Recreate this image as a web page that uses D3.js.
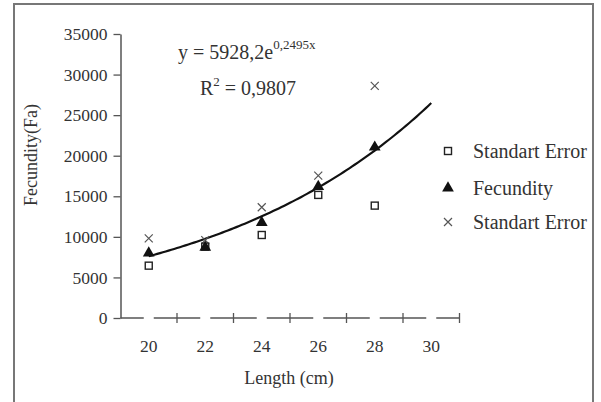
<!DOCTYPE html>
<html><head><meta charset="utf-8">
<script src="https://cdn.jsdelivr.net/npm/d3@7"></script>
<style>
html,body{margin:0;padding:0;background:#fff;}
svg{display:block;font-family:"Liberation Serif","Times New Roman",serif;}
</style></head>
<body>
<svg id="chart" width="601" height="402"></svg>
<script>
const lengths = [20, 22, 24, 26, 28];
const fecundity = [8000, 8700, 11750, 16200, 21050];
const seLow = [6450, 8800, 10230, 15170, 13850];
const seHigh = [9820, 9600, 13650, 17550, 28600];
const yTicks = [0, 5000, 10000, 15000, 20000, 25000, 30000, 35000];
const xLabels = [20, 22, 24, 26, 28, 30];
const xMarks = [21, 23, 25, 27, 29, 31];
const trendA = 5928.2, trendB = 0.2495;
const legendNames = ["Standart Error", "Fecundity", "Standart Error"];

const svg = d3.select("#chart");
const x = d3.scaleLinear().domain([19, 31]).range([120.5, 459.5]);
const y = d3.scaleLinear().domain([0, 35000]).range([318, 34]);
const axisCol = "#555";

// border
svg.append("rect").attr("x", 14).attr("y", 4).attr("width", 579).attr("height", 410)
  .attr("fill", "none").attr("stroke", "#777").attr("stroke-width", 2);

// y axis
const ya = svg.append("g").attr("transform", "translate(120.5,0)")
  .call(d3.axisLeft(y).tickValues(yTicks).tickSize(7).tickSizeOuter(0).tickPadding(6).tickFormat(d3.format("d")));
ya.select(".domain").attr("stroke", axisCol).attr("stroke-width", 1.5);
ya.selectAll(".tick line").attr("stroke", axisCol).attr("stroke-width", 1.3);
ya.selectAll("text").attr("font-family", "Liberation Serif").attr("font-size", 17.5).attr("fill", "#333");

// x axis (broken line with gaps at labels)
const xa = svg.append("g").attr("transform", "translate(0,318)");
const bounds = [19, ...xLabels, 31];
for (let i = 0; i < bounds.length - 1; i++) {
  const a = bounds[i], b = bounds[i + 1];
  const x0 = x(a) + (a === 19 ? 0 : 5), x1 = x(b) - (b === 31 ? 0 : 5);
  xa.append("line").attr("x1", x0).attr("x2", x1).attr("y1", 0).attr("y2", 0)
    .attr("stroke", axisCol).attr("stroke-width", 1.5);
}
xa.selectAll(".mk").data(xMarks).join("line").attr("class", "mk")
  .attr("x1", d => x(d)).attr("x2", d => x(d)).attr("y1", -5).attr("y2", 5)
  .attr("stroke", axisCol).attr("stroke-width", 1.3);
xa.selectAll(".lb").data(xLabels).join("text").attr("class", "lb")
  .attr("x", d => x(d)).attr("y", 34).attr("text-anchor", "middle")
  .attr("font-size", 17.5).attr("fill", "#333").text(d => d);

// titles
svg.append("text").attr("x", 289).attr("y", 384).attr("text-anchor", "middle")
  .attr("font-size", 18).attr("fill", "#333").text("Length (cm)");
svg.append("text").attr("transform", "translate(37,155) rotate(-90)").attr("text-anchor", "middle")
  .attr("font-size", 18).attr("fill", "#333").text("Fecundity(Fa)");

// trendline
const tx = d3.range(20, 30.001, 0.1);
const line = d3.line().x(d => x(d)).y(d => y(trendA * Math.exp(trendB * ((d - 18) / 2))));
svg.append("path").datum(tx).attr("d", line).attr("fill", "none")
  .attr("stroke", "#111").attr("stroke-width", 2.2);

// markers
const sq = 7;
function square(g, cx, cy) {
  g.append("rect").attr("x", cx - sq / 2).attr("y", cy - sq / 2).attr("width", sq).attr("height", sq)
    .attr("fill", "#fff").attr("stroke", "#222").attr("stroke-width", 1.4);
}
function tri(g, cx, cy) {
  g.append("path").attr("d", d3.symbol(d3.symbolTriangle, 60)()).attr("transform", `translate(${cx},${cy})`)
    .attr("fill", "#111");
}
function cross(g, cx, cy) {
  const s = 4;
  g.append("path").attr("d", `M${cx - s},${cy - s}L${cx + s},${cy + s}M${cx - s},${cy + s}L${cx + s},${cy - s}`)
    .attr("stroke", "#555").attr("stroke-width", 1.2).attr("fill", "none");
}
const mg = svg.append("g");
lengths.forEach((L, i) => cross(mg, x(L), y(seHigh[i])));
lengths.forEach((L, i) => square(mg, x(L), y(seLow[i])));
lengths.forEach((L, i) => tri(mg, x(L), y(fecundity[i])));

// equation
const eq = svg.append("text").attr("x", 178).attr("y", 59).attr("font-size", 20).attr("fill", "#333");
eq.append("tspan").text("y = 5928,2e");
eq.append("tspan").attr("dy", -10).attr("font-size", 13).text("0,2495x");
const r2 = svg.append("text").attr("x", 200).attr("y", 95).attr("font-size", 20).attr("fill", "#333");
r2.append("tspan").text("R");
r2.append("tspan").attr("dy", -9).attr("font-size", 13).text("2");
r2.append("tspan").attr("dy", 9).text(" = 0,9807");

// legend
const lg = svg.append("g");
const ly = [151, 188, 222];
square(lg, 448, ly[0]);
tri(lg, 448, ly[1]);
cross(lg, 448, ly[2]);
legendNames.forEach((n, i) => lg.append("text").attr("x", 473).attr("y", ly[i] + 7)
  .attr("font-size", 20).attr("fill", "#333").text(n));
</script>
</body></html>
